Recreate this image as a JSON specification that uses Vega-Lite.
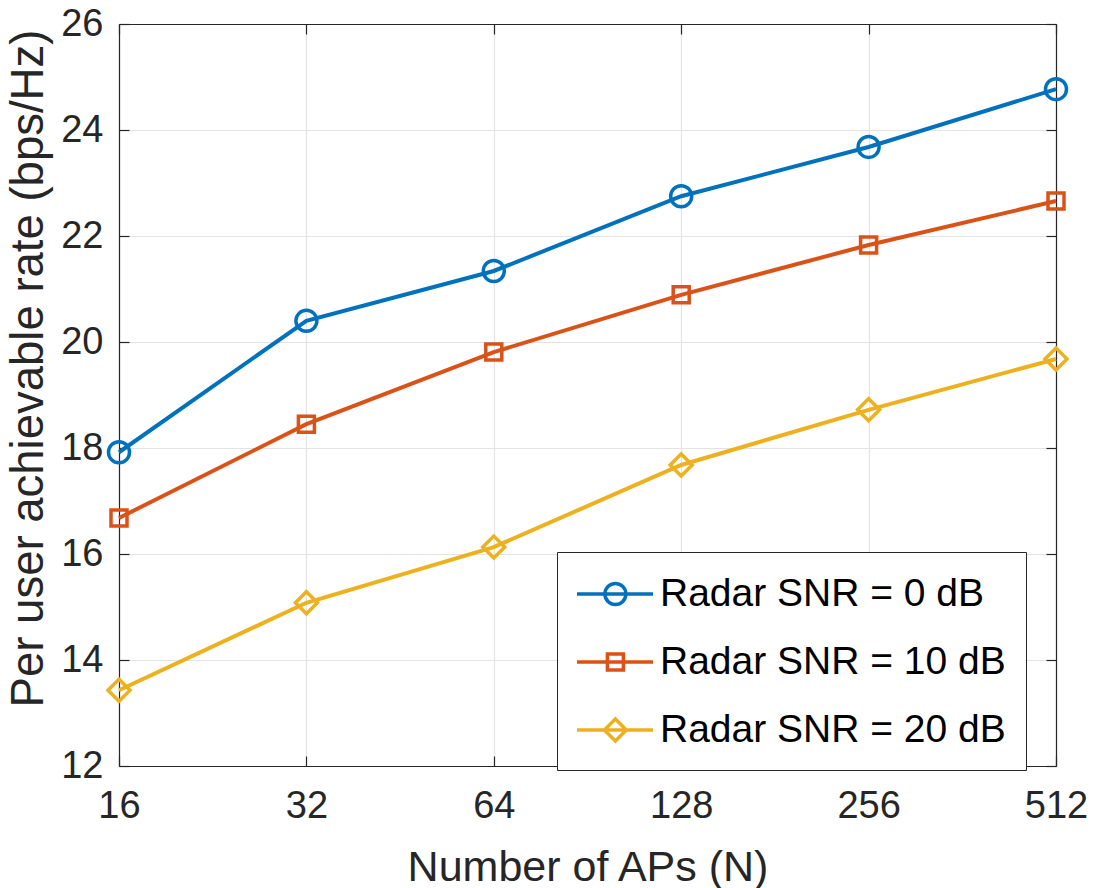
{
  "$schema": "https://vega.github.io/schema/vega-lite/v6.json",
  "autosize": {"type": "none"},
  "width": 937,
  "height": 742,
  "padding": {"left": 119, "top": 24, "right": 37, "bottom": 122},
  "background": "white",
  "config": {
    "font": "Liberation Sans",
    "view": {"stroke": null},
    "axis": {
      "labelFont": "Liberation Sans",
      "titleFont": "Liberation Sans",
      "labelColor": "#262626",
      "titleColor": "#262626",
      "labelFontSize": 38,
      "titleFontSize": 43,
      "titleFontWeight": "normal",
      "domainColor": "#262626",
      "domainWidth": 1.2,
      "tickColor": "#262626",
      "tickWidth": 1.2,
      "tickSize": -10,
      "gridColor": "#e3e3e3",
      "gridWidth": 1.2
    }
  },
  "data": {
    "values": [
      {"N": 16, "rate": 17.92, "series": "Radar SNR = 0 dB"},
      {"N": 32, "rate": 20.40, "series": "Radar SNR = 0 dB"},
      {"N": 64, "rate": 21.34, "series": "Radar SNR = 0 dB"},
      {"N": 128, "rate": 22.75, "series": "Radar SNR = 0 dB"},
      {"N": 256, "rate": 23.68, "series": "Radar SNR = 0 dB"},
      {"N": 512, "rate": 24.77, "series": "Radar SNR = 0 dB"},
      {"N": 16, "rate": 16.68, "series": "Radar SNR = 10 dB"},
      {"N": 32, "rate": 18.45, "series": "Radar SNR = 10 dB"},
      {"N": 64, "rate": 19.81, "series": "Radar SNR = 10 dB"},
      {"N": 128, "rate": 20.89, "series": "Radar SNR = 10 dB"},
      {"N": 256, "rate": 21.83, "series": "Radar SNR = 10 dB"},
      {"N": 512, "rate": 22.66, "series": "Radar SNR = 10 dB"},
      {"N": 16, "rate": 13.43, "series": "Radar SNR = 20 dB"},
      {"N": 32, "rate": 15.08, "series": "Radar SNR = 20 dB"},
      {"N": 64, "rate": 16.13, "series": "Radar SNR = 20 dB"},
      {"N": 128, "rate": 17.68, "series": "Radar SNR = 20 dB"},
      {"N": 256, "rate": 18.72, "series": "Radar SNR = 20 dB"},
      {"N": 512, "rate": 19.68, "series": "Radar SNR = 20 dB"}
    ]
  },
  "layer": [
    {
      "mark": {"type": "line", "strokeWidth": 4, "clip": false},
      "encoding": {
        "x": {
          "field": "N", "type": "quantitative",
          "scale": {"type": "log", "base": 2, "domain": [16, 512], "nice": false},
          "axis": {
            "orient": "bottom",
            "title": "Number of APs (N)",
            "values": [16, 32, 64, 128, 256, 512],
            "format": "d",
            "grid": true,
            "labelPadding": 31,
            "labelFlush": false,
            "titleX": 468.5,
            "titleY": 114,
            "titleBaseline": "alphabetic"
          }
        },
        "y": {
          "field": "rate", "type": "quantitative",
          "scale": {"domain": [12, 26], "nice": false, "zero": false},
          "axis": {
            "orient": "left",
            "title": "Per user achievable rate (bps/Hz)",
            "titleFontSize": 45.5,
            "values": [12, 14, 16, 18, 20, 22, 24, 26],
            "grid": true,
            "labelPadding": 26,
            "labelFlush": false,
            "titleX": -77,
            "titleY": 344,
            "titleAngle": -90,
            "titleBaseline": "alphabetic"
          }
        },
        "color": {
          "field": "series", "type": "nominal",
          "scale": {
            "domain": ["Radar SNR = 0 dB", "Radar SNR = 10 dB", "Radar SNR = 20 dB"],
            "range": ["#0072BD", "#D95319", "#EDB120"]
          },
          "legend": {
            "title": null,
            "orient": "none",
            "legendX": 438,
            "legendY": 528,
            "padding": 20,
            "fillColor": "white",
            "strokeColor": "#262626",
            "labelFont": "Liberation Sans",
            "labelFontSize": 39,
            "labelColor": "black",
            "labelOffset": 39,
            "labelLimit": 700,
            "symbolSize": 1600,
            "symbolStrokeWidth": 3.5,
            "rowPadding": 26,
            "encode": {
              "labels": {
                "update": {"text": {"signal": "datum.label + '\u2003\u2003\u2003'"}}
              },
              "symbols": {
                "update": {
                  "shape": {"signal": "datum.value === 'Radar SNR = 0 dB' ? 'M-1.1,0H2.7M1.345,0A0.525,0.525,0,1,1,0.295,0A0.525,0.525,0,1,1,1.345,0Z' : datum.value === 'Radar SNR = 10 dB' ? 'M-1.1,0H2.7M0.42,-0.4H1.22V0.4H0.42Z' : 'M-1.1,0H2.7M0.82,-0.55L1.37,0L0.82,0.55L0.27,0Z'"},
                  "stroke": {"scale": "color", "field": "value"},
                  "fill": {"value": "transparent"},
                  "strokeWidth": {"value": 3.5},
                  "opacity": {"value": 1}
                }
              }
            }
          }
        }
      }
    },
    {
      "transform": [{"filter": "datum.series === 'Radar SNR = 0 dB'"}],
      "mark": {"type": "point", "shape": "circle", "size": 441, "filled": false, "strokeWidth": 3.5, "opacity": 1, "clip": false},
      "encoding": {
        "x": {
          "field": "N", "type": "quantitative",
          "axis": {"orient": "top", "title": null, "labels": false, "grid": false, "values": [16, 32, 64, 128, 256, 512]}
        },
        "y": {
          "field": "rate", "type": "quantitative",
          "axis": {"orient": "right", "title": null, "labels": false, "grid": false, "values": [12, 14, 16, 18, 20, 22, 24, 26]}
        },
        "color": {"field": "series", "type": "nominal"}
      }
    },
    {
      "transform": [{"filter": "datum.series === 'Radar SNR = 10 dB'"}],
      "mark": {"type": "point", "shape": "square", "size": 256, "filled": false, "strokeWidth": 3.5, "opacity": 1, "clip": false},
      "encoding": {
        "x": {"field": "N", "type": "quantitative", "axis": null},
        "y": {"field": "rate", "type": "quantitative", "axis": null},
        "color": {"field": "series", "type": "nominal"}
      }
    },
    {
      "transform": [{"filter": "datum.series === 'Radar SNR = 20 dB'"}],
      "mark": {"type": "point", "shape": "M-1,0L0,-1L1,0L0,1Z", "size": 484, "filled": false, "strokeWidth": 3.5, "opacity": 1, "clip": false},
      "encoding": {
        "x": {"field": "N", "type": "quantitative", "axis": null},
        "y": {"field": "rate", "type": "quantitative", "axis": null},
        "color": {"field": "series", "type": "nominal"}
      }
    }
  ],
  "resolve": {"axis": {"x": "independent", "y": "independent"}}
}
